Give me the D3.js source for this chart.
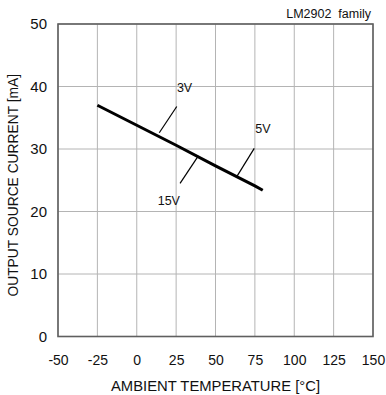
<!DOCTYPE html>
<html><head><meta charset="utf-8">
<script src="https://cdn.jsdelivr.net/npm/d3@7"></script>
<style>body{margin:0;background:#fff}svg{display:block;font-family:"Liberation Sans",Arial,sans-serif}</style>
</head><body>
<script>
const temps = [-25, 0, 25, 50, 75, 80];
const current = [37.0, 33.8, 30.6, 27.3, 24.1, 23.4];
const xTicks = [-50, -25, 0, 25, 50, 75, 100, 125, 150];
const yTicks = [0, 10, 20, 30, 40, 50];
const labels = ["3V", "5V", "15V"];
const leaderFrom = [[14.3, 32.6], [63.8, 25.7], [39.1, 28.9]];
const leaderTo = [[25.4, 36.8], [74.6, 30.1], [27.5, 24.5]];
const labelPos = [[25.5, 39.9], [75.3, 33.3], [13.3, 21.8]];

const W = 386, H = 395;
const svg = d3.select("body").append("svg").attr("width", W).attr("height", H);
const x = d3.scaleLinear().domain([-50, 150]).range([58, 373]);
const y = d3.scaleLinear().domain([0, 50]).range([336.5, 24]);

// grid
svg.append("g").selectAll("line").data(xTicks).join("line")
  .attr("x1", d => x(d)).attr("x2", d => x(d)).attr("y1", y(0)).attr("y2", y(50))
  .attr("stroke", "#b4b4b4").attr("stroke-width", 1);
svg.append("g").selectAll("line").data(yTicks).join("line")
  .attr("y1", d => y(d)).attr("y2", d => y(d)).attr("x1", x(-50)).attr("x2", x(150))
  .attr("stroke", "#b4b4b4").attr("stroke-width", 1);
// frame
svg.append("rect").attr("x", x(-50)).attr("y", y(50)).attr("width", x(150) - x(-50)).attr("height", y(0) - y(50))
  .attr("fill", "none").attr("stroke", "#5f5f5f").attr("stroke-width", 1.6);

// axes tick labels
const xAxis = d3.axisBottom(x).tickValues(xTicks).tickSize(0).tickPadding(0).tickFormat(d => String(d));
const gx = svg.append("g").attr("transform", `translate(0,360)`).call(xAxis);
gx.select(".domain").remove();
gx.selectAll("text").attr("font-size", 14).attr("fill", "#111").attr("y", 0).attr("dy", "0.36em");
const yAxis = d3.axisLeft(y).tickValues(yTicks).tickSize(0).tickPadding(11).tickFormat(d => String(d));
const gy = svg.append("g").attr("transform", `translate(${x(-50)},0)`).call(yAxis);
gy.select(".domain").remove();
gy.selectAll("text").attr("font-size", 15).attr("fill", "#111");

// data line
svg.append("path").datum(temps.map((t, i) => [t, current[i]]))
  .attr("d", d3.line().x(d => x(d[0])).y(d => y(d[1])))
  .attr("fill", "none").attr("stroke", "#000").attr("stroke-width", 3);

// leaders + labels
labels.forEach((lab, i) => {
  svg.append("line")
    .attr("x1", x(leaderFrom[i][0])).attr("y1", y(leaderFrom[i][1]))
    .attr("x2", x(leaderTo[i][0])).attr("y2", y(leaderTo[i][1]))
    .attr("stroke", "#000").attr("stroke-width", 1.2);
  svg.append("text").attr("x", x(labelPos[i][0])).attr("y", y(labelPos[i][1]))
    .attr("dy", "0.35em").attr("font-size", 12.5).attr("fill", "#111").text(lab);
});

// titles
svg.append("text").attr("x", 371).attr("y", 18).attr("text-anchor", "end")
  .attr("font-size", 12.5).attr("fill", "#111").text("LM2902\u00a0 family");
svg.append("text").attr("x", 215.5).attr("y", 385.5).attr("text-anchor", "middle")
  .attr("dy", "0.35em").attr("font-size", 14.8).attr("fill", "#111").text("AMBIENT TEMPERATURE [°C]");
svg.append("text").attr("transform", `translate(13,${(y(0) + y(50)) / 2 + 5}) rotate(-90)`)
  .attr("text-anchor", "middle").attr("dy", "0.35em").attr("font-size", 13.8).attr("fill", "#111")
  .text("OUTPUT SOURCE CURRENT [mA]");
</script>
</body></html>
